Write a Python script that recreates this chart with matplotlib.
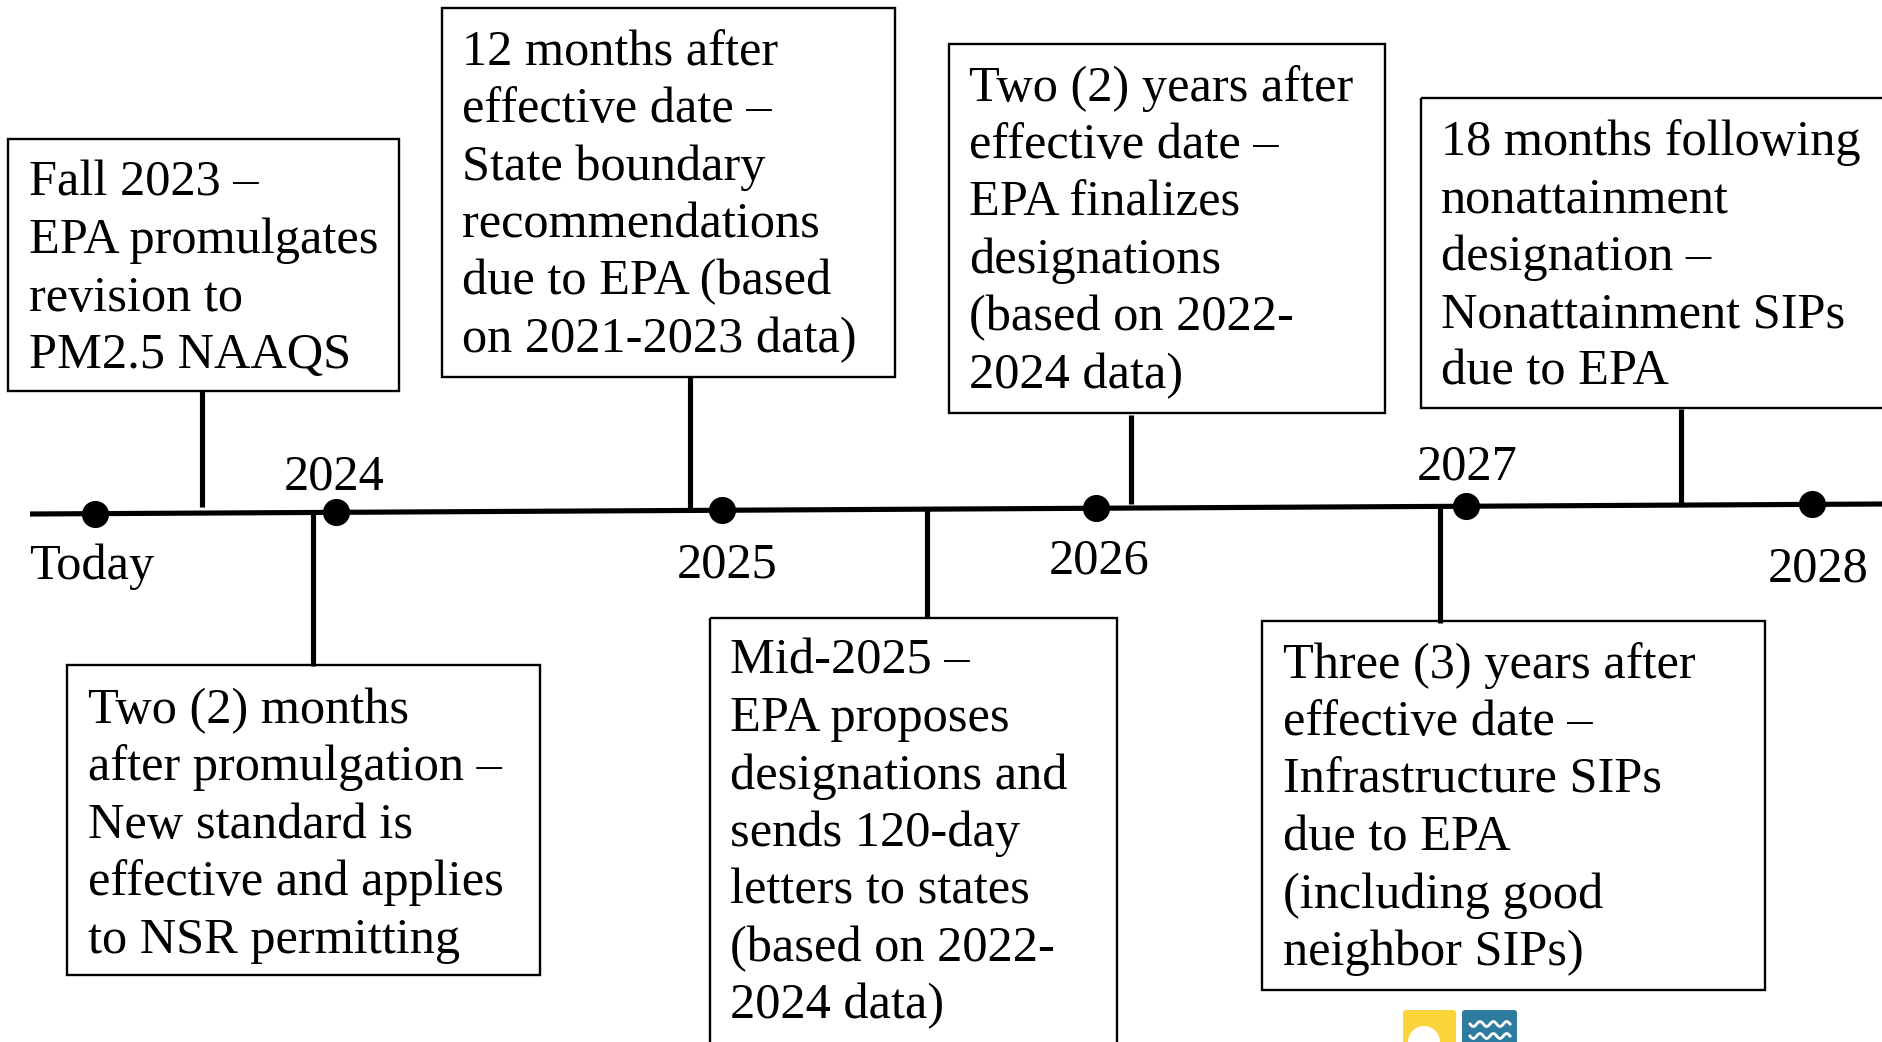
import matplotlib.pyplot as plt
from matplotlib.patches import Rectangle, FancyBboxPatch, Circle
import numpy as np

# ---- chart content ----
year_labels = ["Today", "2024", "2025", "2026", "2027", "2028"]

events = [
    ["Fall 2023 \u2013", "EPA promulgates", "revision to", "PM2.5 NAAQS"],
    ["Two (2) months", "after promulgation \u2013", "New standard is",
     "effective and applies", "to NSR permitting"],
    ["12 months after", "effective date \u2013", "State boundary",
     "recommendations", "due to EPA (based", "on 2021-2023 data)"],
    ["Mid-2025 \u2013", "EPA proposes", "designations and", "sends 120-day",
     "letters to states", "(based on 2022-", "2024 data)"],
    ["Two (2) years after", "effective date \u2013", "EPA finalizes",
     "designations", "(based on 2022-", "2024 data)"],
    ["Three (3) years after", "effective date \u2013", "Infrastructure SIPs",
     "due to EPA", "(including good", "neighbor SIPs)"],
    ["18 months following", "nonattainment", "designation \u2013",
     "Nonattainment SIPs", "due to EPA"],
]

# ---- layout (pixel coords of the 1883x1042 canvas) ----
dot_x = [95, 336, 722, 1096, 1466, 1812]
label_pos = [(29, 567, "left"), (334, 477, "center"), (727, 565, "center"),
             (1099, 561, "center"), (1467, 467, "center"), (1818, 569, "center")]

# box: x0, y0, x1, y1 ; stem x, stem y0, stem y1 ; text x, first line center
boxes = [
    (8, 139, 399, 391, 202, 391, 507, 29, 180),
    (67, 665, 540, 975, 313, 512, 666, 88, 707),
    (442, 8, 895, 377, 690, 377, 509, 462, 49),
    (710, 618, 1117, 1060, 927, 509, 618, 730, 658),
    (949, 44, 1385, 413, 1131, 415, 504, 969, 85),
    (1262, 621, 1765, 990, 1440, 507, 623, 1283, 662),
    (1421, 98, 1895, 408, 1681, 409, 503, 1441, 139),
]
pitch = 57.4
fs = 36.3
font = "Liberation Serif"

fig = plt.figure(figsize=(18.83, 10.42), dpi=100)
ax = fig.add_axes([0, 0, 1, 1])
ax.set_xlim(0, 1883)
ax.set_ylim(1042, 0)
ax.axis("off")

# main timeline, slightly tilted like the original
def line_y(x):
    return 514 - (x - 30) * (10 / 1853)

ax.plot([30, 1883], [line_y(30), line_y(1883)], color="black", lw=3.7,
        solid_capstyle="butt", zorder=2)
ax.plot(dot_x, [line_y(x) for x in dot_x], "o", color="black", ms=18.5, zorder=3)

for (lx, ly, ha), lab in zip(label_pos, year_labels):
    ax.text(lx, ly, lab, ha=ha, va="center", fontsize=fs, family=font)

for b, lines in zip(boxes, events):
    x0, y0, x1, y1, sx, sy0, sy1, tx, ty = b
    ax.add_patch(Rectangle((x0, y0), x1 - x0, y1 - y0, fill=False,
                           ec="black", lw=1.7, zorder=2))
    ax.plot([sx, sx], [sy0, sy1], color="black", lw=3.7,
            solid_capstyle="butt", zorder=2)
    for i, ln in enumerate(lines):
        ax.text(tx, ty + i * pitch + 16, ln, ha="left", va="baseline",
                fontsize=fs, family=font)

# small logo at the bottom
ax.add_patch(FancyBboxPatch((1403, 1010), 53, 40, boxstyle="round,pad=0,rounding_size=3",
                            fc="#fbd43c", ec="none", zorder=2))
ax.add_patch(FancyBboxPatch((1462, 1010), 55, 40, boxstyle="round,pad=0,rounding_size=3",
                            fc="#2d7b9e", ec="none", zorder=2))
ax.add_patch(Circle((1424, 1042), 16, fc="white", ec="none", zorder=3))
wx = np.linspace(1470, 1510, 60)
for wy in [1024, 1036]:
    ax.plot(wx, wy + 2.5 * np.sin((wx - 1470) / 40 * 3 * 2 * np.pi),
            color="white", lw=2, zorder=3)

fig.savefig("out.png", dpi=100)
